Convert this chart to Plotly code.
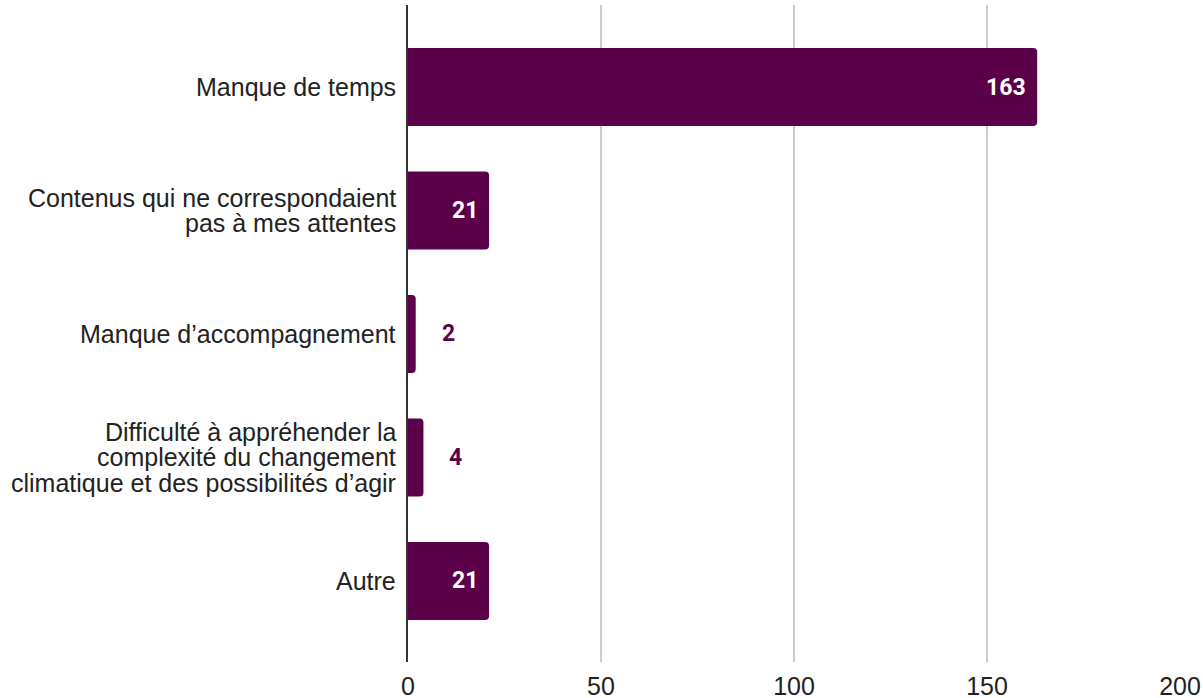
import plotly.graph_objects as go

categories = [
    "Manque de temps",
    "Contenus qui ne correspondaient<br>pas à mes attentes",
    "Manque d’accompagnement",
    "Difficulté à appréhender la<br>complexité du changement<br>climatique et des possibilités d’agir",
    "Autre",
]
values = [163, 21, 2, 4, 21]
x_ticks = [0, 50, 100, 150, 200]

BAR_COLOR = "#5c0049"
TEXT_COLOR = "#222222"
LABEL_FONT = "Liberation Sans, Arial, sans-serif"

fig = go.Figure()
fig.add_trace(go.Bar(
    y=list(range(len(categories))),
    x=values,
    orientation="h",
    width=0.632,
    marker=dict(color=BAR_COLOR, line=dict(width=0), cornerradius=4),
    hoverinfo="skip",
    showlegend=False,
))

annotations = []
line_gap = 25.5
for i, (cat, v) in enumerate(zip(categories, values)):
    lines = cat.split("<br>")
    n = len(lines)
    for j, ln in enumerate(lines):
        annotations.append(dict(
            x=0, y=i, xref="x", yref="y", text=ln, showarrow=False,
            xanchor="right", yanchor="middle", xshift=-12,
            yshift=((n - 1) / 2 - j) * line_gap,
            borderpad=0, borderwidth=0,
            font=dict(family=LABEL_FONT, size=25, color=TEXT_COLOR),
        ))
    inside = v > 10
    annotations.append(dict(
        x=v, y=i, xref="x", yref="y", text=str(v), showarrow=False,
        xanchor="right" if inside else "left", yanchor="middle",
        xshift=-9 if inside else 24,
        font=dict(family="Roboto, sans-serif", size=23, weight="bold",
                  color="white" if inside else BAR_COLOR),
    ))

fig.update_layout(
    width=1203, height=698,
    margin=dict(l=408, r=23, t=5, b=36, autoexpand=False),
    paper_bgcolor="white", plot_bgcolor="white",
    bargap=0.37,
    annotations=annotations,
    xaxis=dict(
        range=[0, 200], tickvals=x_ticks, ticktext=[str(t) for t in x_ticks],
        showgrid=True, gridcolor="#cccccc", gridwidth=1.5,
        zeroline=False, showline=False, ticks="",
        ticklabelstandoff=7, automargin=False,
        tickfont=dict(family=LABEL_FONT, size=25, color=TEXT_COLOR),
        fixedrange=True,
    ),
    yaxis=dict(
        range=[4.656, -0.664], showticklabels=False, ticks="",
        showgrid=False, zeroline=False, automargin=False,
        showline=True, linecolor="#333333", linewidth=1.5,
        fixedrange=True,
    ),
)

fig.write_html(
    "out.html",
    config={"displayModeBar": False},
    post_script="document.body.style.margin='0';document.body.style.overflow='hidden';",
)
